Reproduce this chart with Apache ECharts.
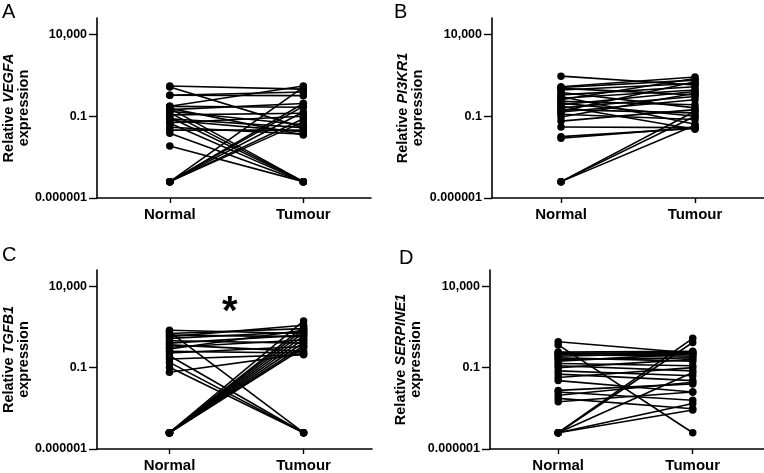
<!DOCTYPE html>
<html>
<head>
<meta charset="utf-8">
<script src="https://cdn.jsdelivr.net/npm/echarts@6/dist/echarts.min.js"></script>
<style>
html,body{margin:0;padding:0;background:#fff;}
#c{width:764px;height:473px;}
</style>
</head>
<body>
<div id="c"></div>
<script>
// ---- data ----
var categories = ['Normal', 'Tumour'];
var yTickValues = [0.000001, 0.1, 10000];
var yTickLabels = ['0.000001', '0.1', '10,000'];
var panelLetters = ['A', 'B', 'C', 'D'];
var genes = ['VEGFA', 'PI3KR1', 'TGFB1', 'SERPINE1'];

var normalA = [7, 6, 1.9, 1.9, 0.4, 0.4, 0.3, 0.25, 0.2, 0.16, 0.12, 0.087, 0.07, 0.057, 0.04, 0.037, 0.021, 0.014, 0.009, 0.0015, 0.00001, 0.00001, 0.00001, 0.00001, 0.00001, 0.00001, 0.3];
var tumourA = [4.5, 0.02, 3, 1.8, 7, 0.35, 0.00001, 0.6, 0.03, 0.00001, 0.15, 0.00001, 0.02, 0.011, 0.1, 0.00001, 0.008, 0.014, 0.00001, 0.00001, 6, 0.6, 0.4, 0.18, 0.07, 0.045, 0.007];

var normalB = [28, 6.3, 5.6, 5, 4, 2.8, 2, 1.6, 1.26, 1, 0.8, 0.63, 0.5, 0.4, 0.32, 0.25, 0.2, 0.18, 0.13, 0.09, 0.05, 0.022, 0.0056, 0.0045, 0.00001, 0.00001, 0.00001];
var tumourB = [8, 25, 16, 2, 10, 0.32, 6.3, 0.032, 4, 20, 0.5, 0.1, 3.2, 0.016, 1.6, 0.16, 12.6, 1, 0.063, 2.5, 0.25, 0.02, 0.018, 0.02, 0.2, 0.1, 0.028];

var normalC = [20, 16, 12.6, 10, 8, 6.3, 4.5, 3.2, 2.5, 1.8, 1.4, 1, 0.8, 0.54, 0.34, 0.21, 0.105, 0.052, 0.00001, 0.00001, 0.00001, 0.00001, 0.00001, 0.00001, 0.00001, 0.00001, 0.00001];
var tumourC = [12.6, 0.00001, 25, 8, 40, 16, 3.2, 10, 1, 5, 20, 0.8, 2, 0.00001, 0.63, 0.00001, 0.00001, 0.7, 74, 32, 22, 14, 9, 5.6, 3.5, 2.2, 1.6];

var normalD = [3.9, 2.5, 0.9, 0.8, 0.7, 0.63, 0.5, 0.4, 0.32, 0.25, 0.18, 0.13, 0.1, 0.063, 0.04, 0.025, 0.016, 0.004, 0.0032, 0.002, 0.0013, 0.0008, 0.00001, 0.00001, 0.00001, 0.00001, 0.00001];
var tumourD = [0.8, 0.00001, 1, 0.63, 0.9, 0.5, 0.8, 0.25, 0.4, 0.7, 0.13, 0.063, 0.32, 0.032, 0.016, 0.1, 0.0032, 0.01, 0.001, 0.0126, 0.0003, 0.0032, 6.3, 3.5, 0.05, 0.00063, 0.00025];

var normals = [normalA, normalB, normalC, normalD];
var tumours = [tumourA, tumourB, tumourC, tumourD];

// ---- layout ----
var grids = [
  {left: 96, top: 18, width: 275, height: 180},
  {left: 492, top: 18, width: 272, height: 180},
  {left: 96, top: 270, width: 276, height: 180},
  {left: 490, top: 270, width: 274, height: 180}
];
var xRanges = [[-0.545, 1.507], [-0.515, 1.515], [-0.54, 1.51], [-0.507, 1.53]];
var letterPos = [[2, 2], [394, 2], [2, 245], [399, 248]];

var font = 'Liberation Sans, Arial, Helvetica, sans-serif';

var option = {
  animation: false,
  backgroundColor: '#fff',
  grid: [], xAxis: [], yAxis: [], series: [], graphic: []
};

grids.forEach(function (g, p) {
  option.grid.push(g);
  option.xAxis.push({
    type: 'value', gridIndex: p,
    min: xRanges[p][0], max: xRanges[p][1],
    splitLine: {show: false},
    axisLine: {show: true, onZero: false, lineStyle: {color: '#000', width: 1.6}},
    axisTick: {show: true, customValues: [0, 1], length: 5, lineStyle: {color: '#000', width: 1.4}},
    axisLabel: {
      customValues: [0, 1],
      formatter: function (v) { return categories[Math.round(v)]; },
      color: '#000', fontWeight: 'bold', fontSize: 15, fontFamily: font, margin: 9
    }
  });
  option.yAxis.push({
    type: 'log', gridIndex: p, logBase: 10,
    min: 0.000001, max: 100000,
    splitLine: {show: false},
    axisLine: {show: true, onZero: false, lineStyle: {color: '#000', width: 1.6}},
    axisTick: {show: true, customValues: yTickValues, length: 8, lineStyle: {color: '#000', width: 1.4}},
    axisLabel: {
      customValues: yTickValues,
      formatter: function (v) {
        var e = Math.round(Math.log10(v));
        for (var i = 0; i < yTickValues.length; i++) {
          if (Math.round(Math.log10(yTickValues[i])) === e) return yTickLabels[i];
        }
        return '';
      },
      color: '#000', fontWeight: 'bold', fontSize: 12.5, fontFamily: font, margin: 10
    },
    name: '{n|Relative }{i|' + genes[p] + '}\n{n|expression}',
    nameLocation: 'middle',
    nameGap: 64,
    nameRotate: 90,
    nameTextStyle: {
      fontFamily: font, color: '#000', fontSize: 14.5, fontWeight: 'bold', lineHeight: 15,
      rich: {
        n: {fontFamily: font, color: '#000', fontSize: 14.5, fontWeight: 'bold', lineHeight: 15},
        i: {fontFamily: font, color: '#000', fontSize: 14.5, fontWeight: 'bold', fontStyle: 'italic', lineHeight: 15}
      }
    }
  });
  var nArr = normals[p], tArr = tumours[p];
  for (var k = 0; k < nArr.length; k++) {
    option.series.push({
      type: 'line', xAxisIndex: p, yAxisIndex: p, silent: true,
      data: [[0, nArr[k]], [1, tArr[k]]],
      symbol: 'circle', symbolSize: 7.5, showSymbol: true,
      lineStyle: {color: '#000', width: 1.6},
      itemStyle: {color: '#000'}
    });
  }
  option.graphic.push({
    type: 'text', left: letterPos[p][0], top: letterPos[p][1],
    style: {text: panelLetters[p], font: 'normal 20px ' + font, fill: '#000'}
  });
});

option.graphic.push({
  type: 'text', left: 222, top: 293,
  style: {text: '*', font: 'bold 40px ' + font, fill: '#000'}
});

var chart = echarts.init(document.getElementById('c'), null, {renderer: 'canvas'});
chart.setOption(option);
</script>
</body>
</html>
